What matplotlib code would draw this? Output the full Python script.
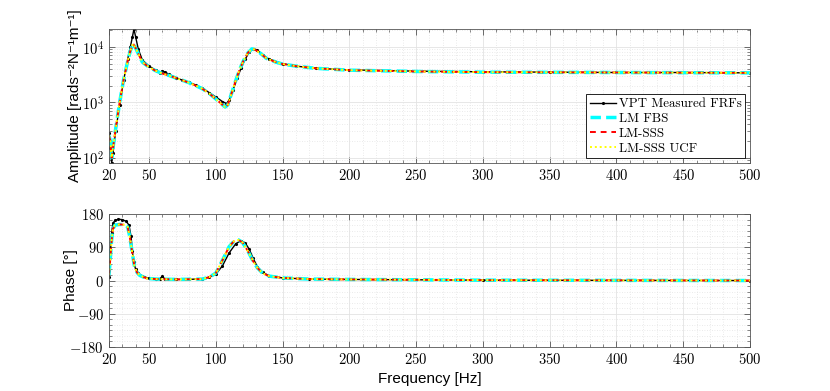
import numpy as np
import matplotlib
matplotlib.use("Agg")
import matplotlib.pyplot as plt
from matplotlib.ticker import FixedLocator, MultipleLocator, LogLocator, FuncFormatter, NullFormatter

plt.rcParams["mathtext.fontset"] = "cm"
plt.rcParams["axes.unicode_minus"] = False

# measured FRF (black)
f_meas = [20, 21, 22, 23, 25, 28, 31, 34, 36, 37.5, 38.7, 40, 42, 45, 50, 55, 58, 60, 62, 65,
          70, 75, 80, 85, 90, 95, 100, 105, 108, 110, 113, 116, 119, 122, 125, 128, 131, 135,
          140, 150, 160, 175, 200, 250, 300, 350, 400, 450, 500]
amp_meas = [280, 150, 80, 120, 300, 900, 2500, 6000, 10000, 15000, 21000, 15000, 9000, 5800,
            4500, 3800, 3400, 3700, 3500, 3200, 2800, 2500, 2300, 2050, 1800, 1500, 1250, 1030,
            950, 1100, 1700, 2700, 4200, 6000, 8000, 9300, 8800, 7200, 6000, 5000, 4500, 4100,
            3850, 3650, 3550, 3500, 3450, 3450, 3400]

f_ph_meas = [20, 21, 22, 23, 24.5, 27, 30, 33, 35, 36.5, 37.5, 38.5, 40, 42, 45, 50, 55, 58, 60,
             62, 70, 80, 90, 95, 100, 105, 110, 115, 119, 122, 125, 128, 131, 135, 140, 150, 170,
             200, 300, 500]
ph_meas = [10, 70, 130, 155, 163, 166, 165, 160, 150, 120, 80, 50, 30, 20, 12, 6, 4, 5, 11, 4,
           3, 3, 5, 9, 17, 40, 75, 100, 108, 102, 85, 60, 38, 22, 13, 7, 4, 3, 1, 0]

# lumped-model fits (LM FBS, LM-SSS, LM-SSS UCF overlap)
f_mod = [20, 21, 22, 23, 25, 28, 31, 34, 36, 38, 40, 42, 45, 50, 55, 60, 65, 70, 75, 80, 85, 90,
         95, 100, 105, 107, 109, 112, 115, 118, 121, 124, 127, 129, 133, 138, 145, 150, 160, 175,
         200, 250, 300, 400, 500]
amp_mod = [250, 200, 100, 150, 330, 1000, 2600, 5500, 8500, 11500, 9500, 7500, 5300, 4300, 3700,
           3300, 3050, 2750, 2500, 2250, 2000, 1750, 1450, 1150, 900, 820, 900, 1500, 2500, 4000,
           5800, 7800, 9200, 9000, 7800, 6200, 5300, 4900, 4500, 4100, 3800, 3600, 3500, 3450,
           3400]

f_ph_mod = [20, 21, 22, 23, 24.5, 28, 32, 34, 35.5, 37, 39, 41, 43, 48, 55, 70, 90, 95, 100, 105,
            110, 114, 117, 120, 124, 128, 131, 135, 140, 150, 170, 200, 300, 500]
ph_mod = [15, 60, 110, 140, 150, 152, 151, 145, 120, 85, 40, 22, 14, 6, 4, 3, 4, 9, 20, 55, 92,
          108, 110, 103, 80, 52, 35, 20, 12, 7, 4, 3, 1, 0]

x_ticks = [20, 50, 100, 150, 200, 250, 300, 350, 400, 450, 500]
ph_ticks = [-180, -90, 0, 90, 180]

labels = ["VPT Measured FRFs", "LM FBS", "LM-SSS", "LM-SSS UCF"]

fig = plt.figure(figsize=(8.3, 3.91), dpi=100)
ax1 = fig.add_axes([0.1313, 0.583, 0.7723, 0.3427])
ax2 = fig.add_axes([0.1313, 0.1125, 0.7723, 0.340])

label_font = {"family": ["Liberation Sans", "DejaVu Sans"], "fontsize": 11}


def style(ax):
    ax.set_xlim(20, 500)
    ax.xaxis.set_major_locator(FixedLocator(x_ticks))
    ax.xaxis.set_minor_locator(MultipleLocator(10))
    ax.xaxis.set_major_formatter(FuncFormatter(lambda v, p: r"$%d$" % v))
    ax.grid(True, which="major", color="#e3e3e3", lw=0.6, ls="-")
    ax.grid(True, which="minor", color="#e3e3e3", lw=0.6, ls=(0, (1, 2)))
    ax.set_axisbelow(True)
    ax.tick_params(which="both", direction="in", top=True, right=True, color="#555555",
                   labelsize=10.5)
    ax.tick_params(which="major", length=4, width=0.6)
    ax.tick_params(which="minor", length=2, width=0.5)
    for sp in ax.spines.values():
        sp.set_color("#555555")
        sp.set_linewidth(0.6)


def draw(ax, fm, ym, fl, yl):
    ax.plot(fm, ym, color="black", lw=1.0, marker=".", ms=2.5, label=labels[0])
    ax.plot(fl, yl, color="#00ffff", lw=2.5, ls=(0, (3, 1.5)), label=labels[1])
    ax.plot(fl, yl, color="#ff0000", lw=1.4, ls=(0, (3, 2.5)), label=labels[2])
    ax.plot(fl, yl, color="#ffff00", lw=1.4, ls=(0, (1, 1.5)), label=labels[3])


draw(ax1, f_meas, amp_meas, f_mod, amp_mod)
ax1.set_yscale("log")
ax1.set_ylim(80, 2.1e4)
ax1.yaxis.set_major_locator(LogLocator(base=10))
ax1.yaxis.set_minor_locator(LogLocator(base=10, subs=np.arange(2, 10)))
ax1.yaxis.set_minor_formatter(NullFormatter())
ax1.yaxis.set_major_formatter(FuncFormatter(lambda v, p: r"$10^{%d}$" % round(np.log10(v))))
style(ax1)
ax1.set_ylabel("Amplitude [rads⁻²N⁻¹m⁻¹]", labelpad=0, **label_font)

leg = ax1.legend(loc="lower right", prop={"family": "cmr10", "size": 9.4}, fancybox=False,
                 framealpha=1, edgecolor="black", borderaxespad=0.35, labelspacing=0.2,
                 handlelength=2.0, handletextpad=0.2, borderpad=0.3)
leg.get_frame().set_linewidth(0.6)

draw(ax2, f_ph_meas, ph_meas, f_ph_mod, ph_mod)
ax2.set_ylim(-180, 180)
ax2.yaxis.set_major_locator(FixedLocator(ph_ticks))
ax2.yaxis.set_minor_locator(MultipleLocator(15))
ax2.yaxis.set_major_formatter(FuncFormatter(lambda v, p: r"$%d$" % v))
style(ax2)
ax2.set_ylabel("Phase [°]", labelpad=-6, **label_font)
ax2.set_xlabel("Frequency [Hz]", labelpad=4, **label_font)

fig.savefig("out.png", dpi=100)
